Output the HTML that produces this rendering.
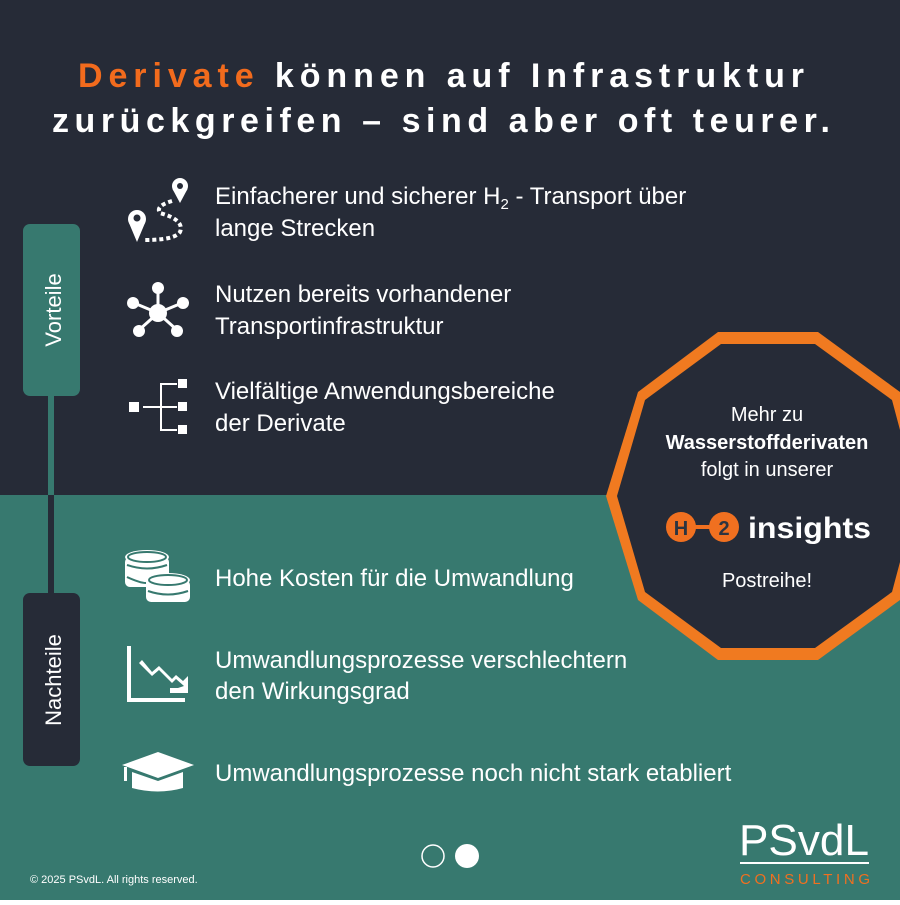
<!DOCTYPE html>
<html><head><meta charset="utf-8"><style>
html,body{margin:0;padding:0}
body{width:900px;height:900px;overflow:hidden;font-family:"Liberation Sans",sans-serif}
</style></head><body>
<svg width="900" height="900" viewBox="0 0 900 900" xmlns="http://www.w3.org/2000/svg" font-family="Liberation Sans, sans-serif">
<rect x="0" y="0" width="900" height="495" fill="#262b37"/>
<rect x="0" y="495" width="900" height="405" fill="#37796f"/>
<!-- title -->
<text x="78" y="87" font-size="34" font-weight="bold" fill="#fff" textLength="726" lengthAdjust="spacing"><tspan fill="#f26b1d">Derivate</tspan> können auf Infrastruktur</text>
<text x="52" y="132" font-size="34" font-weight="bold" fill="#fff" textLength="778" lengthAdjust="spacing">zurückgreifen – sind aber oft teurer.</text>
<!-- side line + boxes -->
<rect x="48" y="396" width="6" height="99" fill="#37796f"/>
<rect x="48" y="495" width="6" height="98" fill="#262b37"/>
<rect x="23" y="224" width="57" height="172" rx="7" fill="#37796f"/>
<text transform="translate(61,310) rotate(-90)" text-anchor="middle" font-size="22" fill="#fff">Vorteile</text>
<rect x="23" y="593" width="57" height="173" rx="7" fill="#262b37"/>
<text transform="translate(61,680) rotate(-90)" text-anchor="middle" font-size="22" fill="#fff">Nachteile</text>
<!-- texts -->
<g font-size="24" fill="#fff">
<text x="215" y="204">Einfacherer und sicherer H<tspan font-size="15" dy="5">2</tspan><tspan dy="-5"> - Transport über</tspan></text>
<text x="215" y="236">lange Strecken</text>
<text x="215" y="302">Nutzen bereits vorhandener</text>
<text x="215" y="334">Transportinfrastruktur</text>
<text x="215" y="399">Vielfältige Anwendungsbereiche</text>
<text x="215" y="431">der Derivate</text>
<text x="215" y="586">Hohe Kosten für die Umwandlung</text>
<text x="215" y="668">Umwandlungsprozesse verschlechtern</text>
<text x="215" y="699">den Wirkungsgrad</text>
<text x="215" y="781">Umwandlungsprozesse noch nicht stark etabliert</text>
</g>
<!-- icons -->
<g fill="#fff" stroke="none">
<!-- route -->
<circle cx="180" cy="186" r="8"/>
<path d="M172.5 189 L180 203 L187.5 189 Z"/>
<circle cx="180" cy="186" r="3" fill="#262b37"/>
<circle cx="137" cy="219" r="9"/>
<path d="M129 223 L137 242 L145 223 Z"/>
<circle cx="137" cy="218" r="3.5" fill="#262b37"/>
<g stroke="#fff" stroke-width="4" stroke-dasharray="4 3" fill="none"><path d="M172 201 Q155 206 160 213 Q185 220 180 232 Q175 240 145 240"/></g>
<!-- network -->
<g stroke="#fff" stroke-width="3"><line x1="158" y1="313" x2="158" y2="289"/><line x1="158" y1="313" x2="134" y2="303"/><line x1="158" y1="313" x2="182" y2="303"/><line x1="158" y1="313" x2="139" y2="330"/><line x1="158" y1="313" x2="177" y2="330"/></g>
<circle cx="158" cy="313" r="9"/><circle cx="158" cy="288" r="6"/><circle cx="133" cy="303" r="6"/><circle cx="183" cy="303" r="6"/><circle cx="139" cy="331" r="6"/><circle cx="177" cy="331" r="6"/>
<!-- tree -->
<rect x="129" y="402" width="10" height="10"/>
<rect x="178" y="379" width="9" height="9"/><rect x="178" y="402" width="9" height="9"/><rect x="178" y="425" width="9" height="9"/>
<g stroke="#fff" stroke-width="2" fill="none"><path d="M143 407 H172 M177 384 H161 V430 H177 M161 407 H177"/></g>
<!-- coins -->
<ellipse cx="147" cy="557" rx="22" ry="7"/><rect x="125" y="557" width="44" height="30" rx="5"/>
<ellipse cx="168" cy="580" rx="22" ry="7"/><rect x="146" y="580" width="44" height="22" rx="5"/>
<g stroke="#37796f" stroke-width="2" fill="none"><ellipse cx="147" cy="557" rx="19" ry="5"/><ellipse cx="168" cy="580" rx="19" ry="5"/><path d="M127 565 Q147 572 167 565 M127 577 Q140 583 146 583 M148 591 Q168 598 188 591"/></g>
<!-- chart -->
<rect x="127" y="646" width="4" height="56"/><rect x="127" y="698" width="58" height="4"/>
<path d="M139 663 L152 676 L159 670 L172 683 L176 679 L184 686 L178 688 L170 688 L170 693 L188 693 L188 676 L183 681 L176 675 L172 679 L159 666 L152 672 L142 660 Z"/>
<!-- cap -->
<path d="M122 765 L158 752 L194 765 L158 778 Z"/>
<path d="M132 772 L132 788 Q158 795 183 788 L183 772 L158 781 Z"/>
<rect x="124" y="767" width="3" height="14"/>
</g>
<!-- decagon -->
<polygon points="718,332 818,332 900,392 900,600 818,660 718,660 638,600 606,496 638,392" fill="#f07a20"/>
<polygon points="721,344 815,344 892,400 900,430 900,562 892,592 815,648 721,648 645,592 617,496 645,400" fill="#262b37"/>
<g font-size="20" fill="#fff" text-anchor="middle">
<text x="767" y="421">Mehr zu</text>
<text x="767" y="449" font-weight="bold">Wasserstoffderivaten</text>
<text x="767" y="476">folgt in unserer</text>
<text x="767" y="587">Postreihe!</text>
</g>
<circle cx="681" cy="527" r="15" fill="#f07020"/><circle cx="724" cy="527" r="15" fill="#f07020"/><rect x="690" y="525" width="26" height="4" fill="#f07020"/>
<text x="681" y="535" text-anchor="middle" font-size="20" font-weight="bold" fill="#2d3440">H</text>
<text x="724" y="535" text-anchor="middle" font-size="20" font-weight="bold" fill="#2d3440">2</text>
<text x="748" y="538" font-size="30" font-weight="bold" fill="#fff" textLength="123" lengthAdjust="spacingAndGlyphs">insights</text>
<!-- dots -->
<circle cx="433" cy="856" r="11" fill="none" stroke="#fff" stroke-width="1.5"/>
<circle cx="467" cy="856" r="12" fill="#fff"/>
<!-- logo -->
<text x="739" y="855" font-size="44" fill="#fff" textLength="130" lengthAdjust="spacingAndGlyphs">PSvdL</text>
<rect x="740" y="862" width="129" height="2" fill="#fff"/>
<text x="740" y="884" font-size="15" fill="#f07020" textLength="130" lengthAdjust="spacing">CONSULTING</text>
<text x="30" y="883" font-size="11" fill="#fff">© 2025 PSvdL. All rights reserved.</text>
</svg>
</body></html>
